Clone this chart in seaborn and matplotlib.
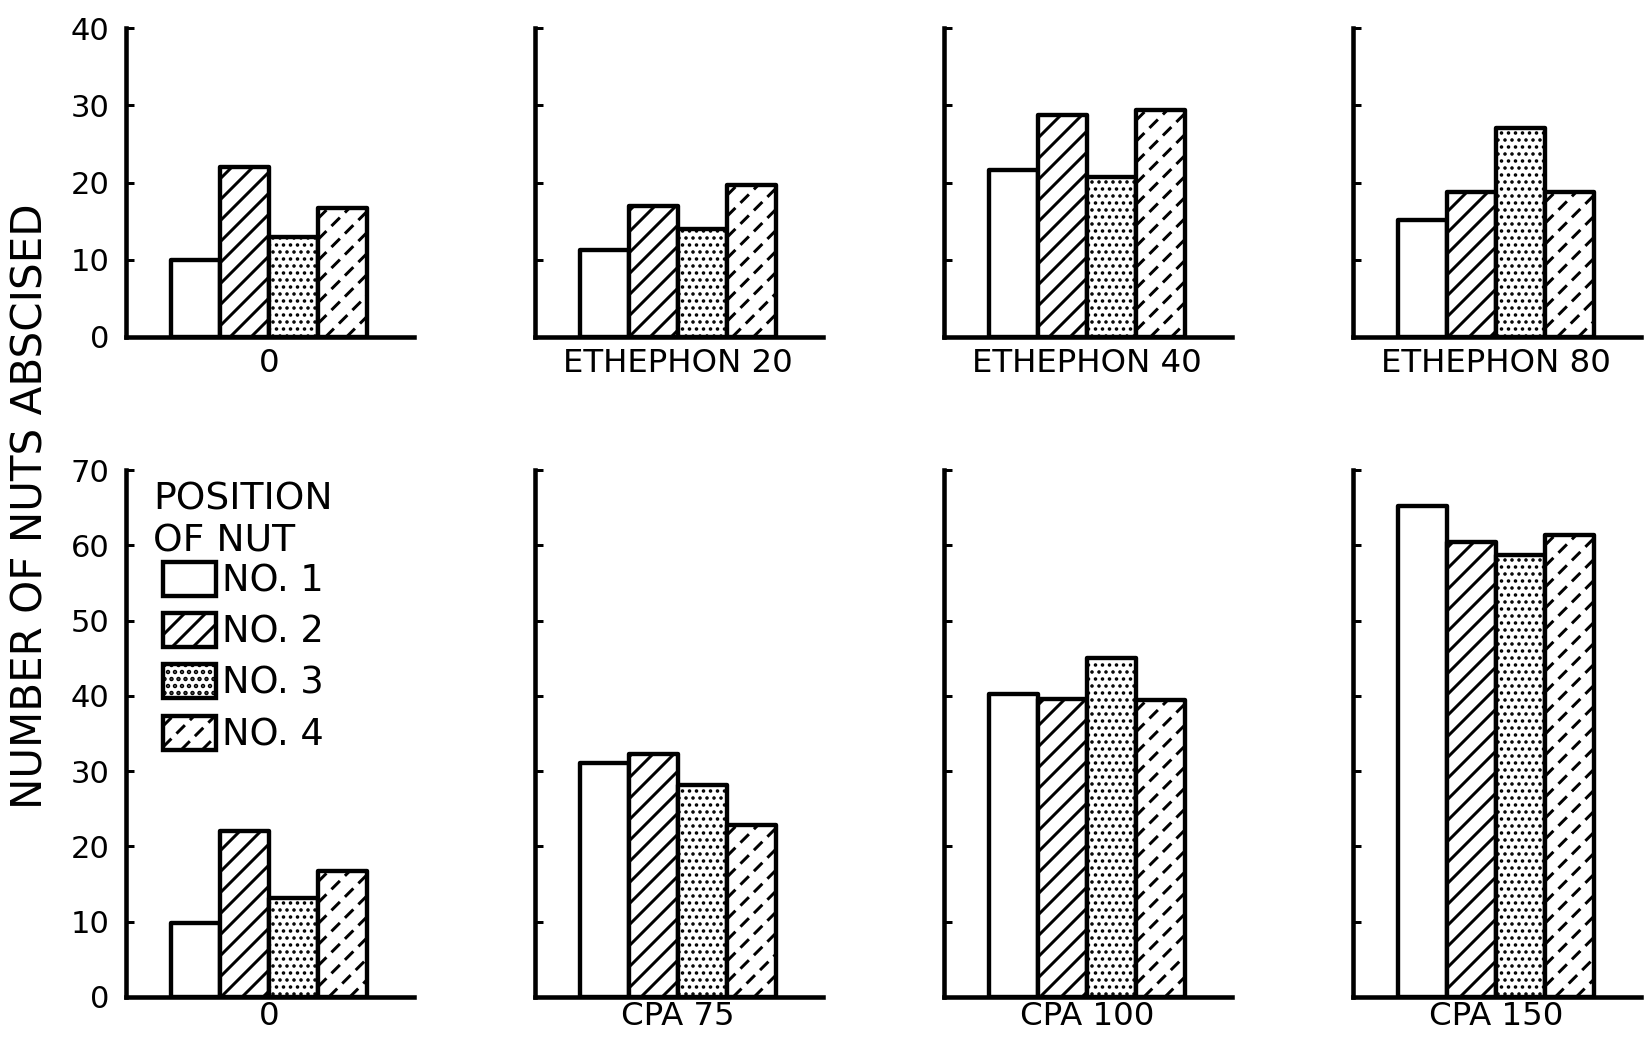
import numpy as np
import pandas as pd
import matplotlib
matplotlib.use("Agg")
import matplotlib.pyplot as plt
import seaborn as sns
from matplotlib.patches import Patch, Rectangle
from matplotlib.lines import Line2D
from matplotlib.legend_handler import HandlerPatch
from matplotlib.transforms import IdentityTransform

# nut position within the cluster (hue)
positions = ["NO. 1", "NO. 2", "NO. 3", "NO. 4"]

# top row: ethephon treatments
top_labels = ["0", "ETHEPHON 20", "ETHEPHON 40", "ETHEPHON 80"]
top_0 = [10.0, 22.0, 13.0, 16.7]
eth_20 = [11.2, 17.0, 14.0, 19.7]
eth_40 = [21.6, 28.8, 20.7, 29.4]
eth_80 = [15.1, 18.8, 27.1, 18.8]

# bottom row: CPA treatments
bottom_labels = ["0", "CPA 75", "CPA 100", "CPA 150"]
bot_0 = [9.8, 22.1, 13.1, 16.7]
cpa_75 = [31.1, 32.3, 28.2, 22.9]
cpa_100 = [40.2, 39.6, 45.0, 39.4]
cpa_150 = [65.2, 60.5, 58.7, 61.4]

top_vals = [top_0, eth_20, eth_40, eth_80]
bot_vals = [bot_0, cpa_75, cpa_100, cpa_150]

rows = []
for r, (labs, vals) in enumerate([(top_labels, top_vals), (bottom_labels, bot_vals)]):
    for lab, v in zip(labs, vals):
        for p, y in zip(positions, v):
            rows.append({"row": r, "treatment": lab, "position": p, "value": y})
df = pd.DataFrame(rows)

sns.set_style("white")
plt.rcParams["font.family"] = ["DejaVu Sans"]
plt.rcParams["text.color"] = "black"
plt.rcParams["axes.labelcolor"] = "black"
plt.rcParams["hatch.linewidth"] = 1.7

# dpi picked so the '//' hatch spacing (dpi/6 px) matches the original (~21 px)
DPI = 126
W, H = 1645, 1041
fig = plt.figure(figsize=(W / DPI, H / DPI), dpi=DPI)

lefts = [126, 535, 944, 1353]
ax_w = 288
row_geom = [(337, 309, 40, 6), (997, 527, 70, 2.5)]  # baseline px, height px, ymax, label pad
hatches = [None, "//", "...", None]
DASH_STEP = 21  # px


def diagonal_segments(w, h, step):
    segs = []
    c = -h + step / 2
    while c < w:
        u0, u1 = max(0, c), min(w, h + c)
        if u1 > u0:
            segs.append((u0, u0 - c, u1, u1 - c))
        c += step
    return segs


for r, (base, hgt, ymax, xpad) in enumerate(row_geom):
    for col in range(4):
        ax = fig.add_axes([lefts[col] / W, (H - base) / H, ax_w / W, hgt / H])
        sub = df[(df.row == r) & (df.treatment == (top_labels, bottom_labels)[r][col])]
        sns.barplot(data=sub, x="treatment", y="value", hue="position",
                    hue_order=positions, palette=["white"] * 4, saturation=1,
                    edgecolor="black", linewidth=2.5, width=0.8, gap=0,
                    errorbar=None, legend=False, ax=ax)
        ax.set_xlim(-0.584, 0.592)
        ax.set_ylim(0, ymax)
        ax.set_yticks(np.arange(0, ymax + 1, 10))
        ax.set_xlabel("")
        ax.set_ylabel("")
        sns.despine(ax=ax)
        for s in ["left", "bottom"]:
            ax.spines[s].set_linewidth(2.6)
            ax.spines[s].set_color("black")
        ax.tick_params(axis="y", direction="in", length=4.6, width=1.7,
                       labelsize=17.5, pad=9.5, colors="black", left=True,
                       labelleft=(col == 0))
        ax.tick_params(axis="x", length=0, pad=xpad, labelsize=18.5, colors="black")

        for i, bar in enumerate(ax.patches[:4]):
            bar.set_joinstyle("round")
            if hatches[i]:
                bar.set_hatch(hatches[i])
                if i == 2 and hasattr(bar, "set_hatch_linewidth"):
                    bar.set_hatch_linewidth(1.2)
            if i == 3:
                bb = bar.get_window_extent()
                for u0, v0, u1, v1 in diagonal_segments(bb.width, bb.height, DASH_STEP):
                    fig.add_artist(Line2D([bb.x0 + u0, bb.x0 + u1], [bb.y0 + v0, bb.y0 + v1],
                                          color="black", lw=1.7, linestyle=(0, (4, 2.4)),
                                          transform=IdentityTransform(), zorder=3))
        if r == 1 and col == 0:
            legend_ax = ax


class DashedHatchHandler(HandlerPatch):
    def create_artists(self, legend, orig_handle, xdescent, ydescent, width, height,
                       fontsize, trans):
        x0, y0 = -xdescent, -ydescent
        arts = [Rectangle((x0, y0), width, height, facecolor="white",
                          edgecolor="black", lw=2.5, transform=trans)]
        for u0, v0, u1, v1 in diagonal_segments(width, height, 12):
            arts.append(Line2D([x0 + u0, x0 + u1], [y0 + v0, y0 + v1], color="black",
                               lw=1.7, linestyle=(0, (4, 2.4)), transform=trans))
        return arts


handles = [Patch(facecolor="white", edgecolor="black", lw=2.5, hatch=h) for h in hatches]
leg = legend_ax.legend(handles=handles, labels=positions,
                       loc="upper left", bbox_to_anchor=(163 / W, 1 - 562 / H),
                       bbox_transform=fig.transFigure, frameon=False, fontsize=21,
                       handlelength=1.45, handleheight=1.05,
                       labelspacing=0.37, handletextpad=0.15, borderpad=0,
                       borderaxespad=0, handler_map={handles[3]: DashedHatchHandler()})
for t in leg.get_texts():
    t.set_color("black")

# legend heading sits a little left of the key boxes, as in the original
fig.text(153 / W, 1 - 482 / H, "POSITION\nOF NUT", ha="left", va="top",
         fontsize=21.5, color="black")

fig.text(31 / W, 1 - 506 / H, "NUMBER OF NUTS ABSCISED", rotation=90,
         ha="center", va="center", fontsize=24, color="black")

fig.savefig("out.png", dpi=DPI, facecolor="white")
